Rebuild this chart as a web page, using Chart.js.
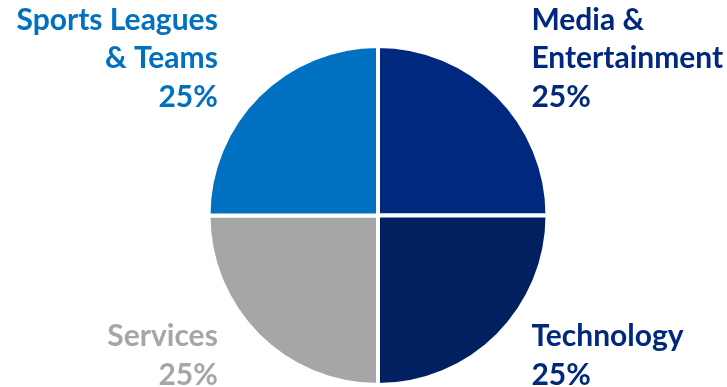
<!DOCTYPE html>
<html>
<head>
<meta charset="utf-8">
<script src="https://cdn.jsdelivr.net/npm/chart.js@4/dist/chart.umd.min.js"></script>
<style>
  html, body { margin: 0; padding: 0; background: #ffffff; }
  #wrap { width: 727px; height: 387px; position: relative; }
</style>
</head>
<body>
<div id="wrap"><canvas id="chart"></canvas></div>
<script>
// Segment names, shown as multi-line labels beside the pie
const categories = [
  ['Media &', 'Entertainment'],
  ['Technology'],
  ['Services'],
  ['Sports Leagues', '& Teams']
];
// Share of each segment, in percent
const shares = [25, 25, 25, 25];
const sliceColors = ['#00287F', '#002060', '#A6A6A6', '#0070C0'];
const labelColors = ['#00287F', '#00287F', '#A6A6A6', '#0070C0'];

const FONT = 'bold 30px Lato, "Open Sans", sans-serif';
const LINE = 38.5;

// Draws each segment's name and percentage at the corner of the pie it belongs to
const cornerLabels = {
  id: 'cornerLabels',
  afterDraw(chart) {
    const arc = chart.getDatasetMeta(0).data[0];
    const cx = arc.x, cy = arc.y, r = arc.outerRadius;
    const ctx = chart.ctx;
    ctx.save();
    ctx.font = FONT;
    ctx.textBaseline = 'alphabetic';
    categories.forEach((lines, i) => {
      const rows = lines.concat([shares[i] + '%']);
      const right = (i === 0 || i === 1);
      const top = (i === 0 || i === 3);
      const x = right ? cx + 0.905 * r : cx - 0.945 * r;
      // top labels hang from above the pie; bottom labels sit along its lower edge
      const firstBase = top ? cy - 1.095 * r : cy + 0.77 * r;
      ctx.fillStyle = labelColors[i];
      ctx.textAlign = right ? 'left' : 'right';
      rows.forEach((t, k) => ctx.fillText(t, x, firstBase + k * LINE));
    });
    ctx.restore();
  }
};

new Chart(document.getElementById('chart'), {
  type: 'pie',
  data: {
    labels: categories.map(c => c.join(' ')),
    datasets: [{
      data: shares,
      backgroundColor: sliceColors,
      borderColor: '#ffffff',
      borderWidth: 4
    }]
  },
  options: {
    responsive: true,
    maintainAspectRatio: false,
    animation: false,
    layout: { padding: { top: 44, left: 29, right: 0, bottom: -2 } },
    plugins: { legend: { display: false }, tooltip: { enabled: false } }
  },
  plugins: [cornerLabels]
});
</script>
</body>
</html>
